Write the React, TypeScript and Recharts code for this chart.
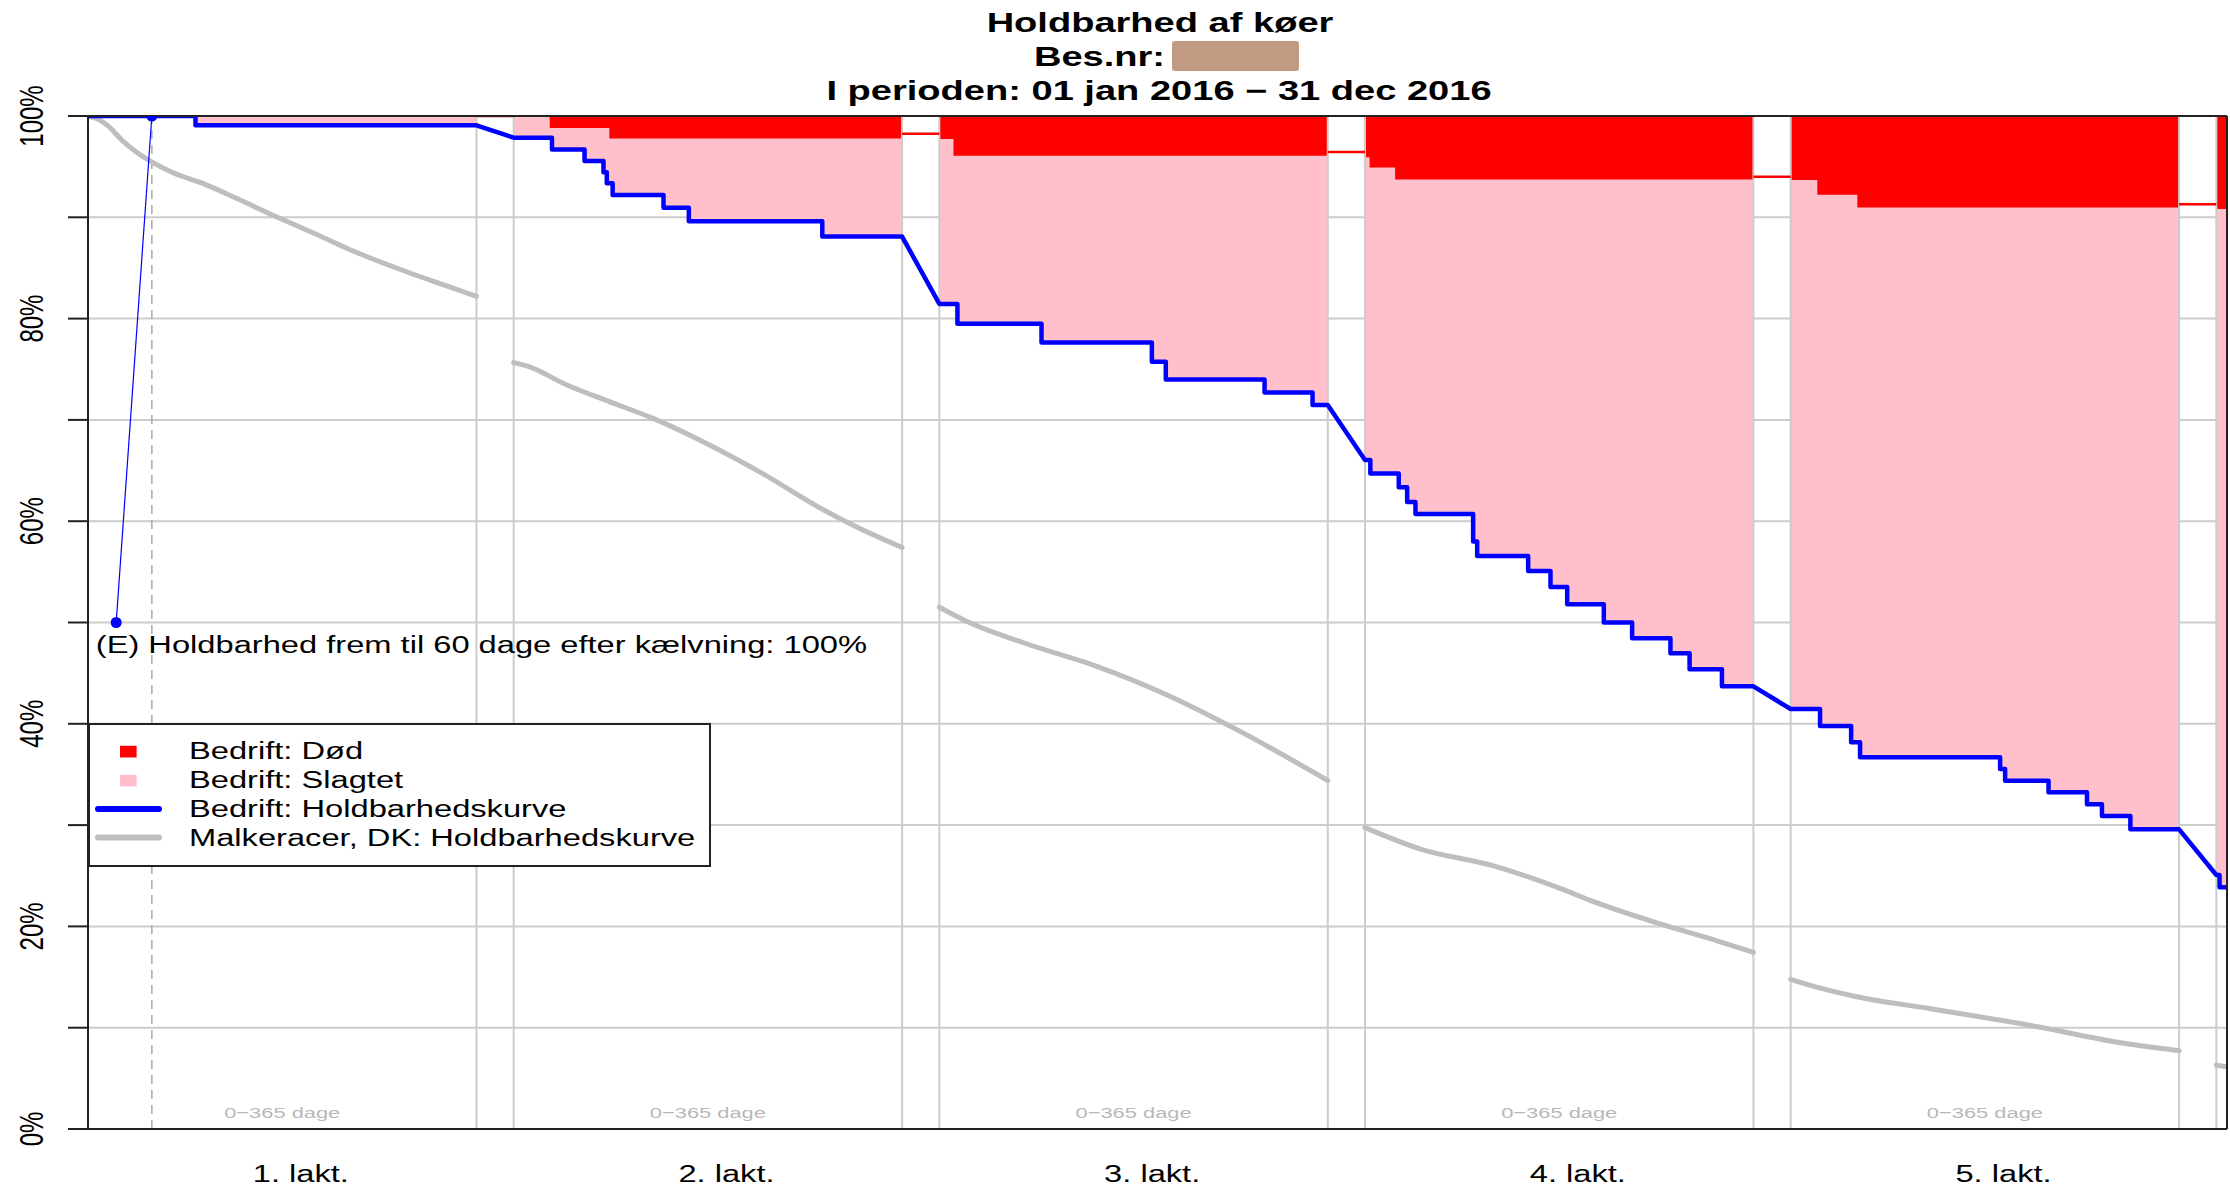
import {
  ComposedChart,
  Area,
  Line,
  XAxis,
  YAxis,
  CartesianGrid,
  ReferenceLine,
  ReferenceDot,
  Legend,
} from "recharts";

const FONT = "'Liberation Sans', Arial, sans-serif";
// the reference picture is stretched sideways, so text is too
const SX = 1.42;

const lactLabels = ["1. lakt.", "2. lakt.", "3. lakt.", "4. lakt.", "5. lakt."];
const lactLabelPos = [200, 600, 1000, 1400, 1800];
const daysLabelPos = [182.5, 582.5, 982.5, 1382.5, 1782.5];
const lactStart = [0, 400, 800, 1200, 1600, 2000];
const lactEnd = [365, 765, 1165, 1565, 1965, 2010];
const yTicks = [0, 10, 20, 30, 40, 50, 60, 70, 80, 90, 100];

// Bedrift: Holdbarhedskurve - start level and [day, %] steps per lactation
const blueStart = [100, 97.86, 81.45, 66.04, 41.46, 25.07];
const blueSteps = [
  [[101, 99.08]],
  [[436, 96.7], [466.6, 95.56], [484.4, 94.45], [487.5, 93.35], [493, 92.2], [540.8, 90.95], [564.6, 89.6], [690, 88.1]],
  [[817, 79.5], [896, 77.65], [999.7, 75.75], [1012.8, 74.0], [1105.6, 72.7], [1150.7, 71.47]],
  [[1205, 64.7], [1231.7, 63.35], [1239.6, 61.9], [1247.4, 60.7], [1301.6, 58.0], [1305.4, 56.56], [1353.3, 55.08],
    [1374.3, 53.5], [1390, 51.8], [1424.4, 50.0], [1451, 48.44], [1487, 46.96], [1505, 45.38], [1535.4, 43.7]],
  [[1627.6, 39.78], [1656.8, 38.17], [1665.2, 36.69], [1796.8, 35.54], [1801.5, 34.38], [1842.3, 33.24],
    [1878.4, 32.05], [1892.5, 30.9], [1919.2, 29.58]],
  [[2003, 23.86]],
];

// Bedrift: Død - lower edge of the red band per lactation
const redStart = [100, 100, 97.8, 96.0, 93.75, 90.9];
const redSteps = [
  [],
  [[434.6, 98.9], [490.6, 97.86]],
  [[814, 96.15]],
  [[1205, 95.0], [1229, 93.8]],
  [[1625.7, 92.3], [1663.3, 91.05]],
  [],
];
const gapRed = [100, 98.25, 96.45, 94.0, 91.3];

// Malkeracer, DK: Holdbarhedskurve
const grayL1 = [[0, 100], [8, 99.75], [18, 99.1], [32, 97.6], [46, 96.4], [61, 95.4], [80, 94.4], [109, 93.3],
  [140, 91.85], [176, 90.1], [215, 88.3], [253, 86.5], [300, 84.6], [335, 83.3], [365, 82.2]];
const grayL2 = [[400, 75.65], [413, 75.3], [450, 73.45], [490, 71.8], [531, 70.15], [578, 67.85], [634, 64.7],
  [688, 61.3], [719, 59.6], [765, 57.4]];
const grayL3 = [[800, 51.5], [826, 50.1], [879, 48.0], [946, 45.75], [1013, 42.9], [1080, 39.4], [1165, 34.4]];
const grayL4 = [[1200, 29.75], [1253, 27.6], [1320, 26.0], [1387, 23.6], [1411, 22.6], [1486, 19.97], [1530, 18.6],
  [1565, 17.44]];
const grayL5 = [[1600, 14.78], [1628, 13.9], [1662, 13.06], [1730, 11.9], [1832, 10.1], [1913, 8.46], [1965, 7.73]];
const grayL6 = [[2000, 6.3], [2010, 6.15]];
const grayCurves = [grayL1, grayL2, grayL3, grayL4, grayL5, grayL6];

// (E) marker: 60 days after calving
const markerPts = [[26.5, 50], [60, 100]];
const eDay = 60;
const eText = "(E) Holdbarhed frem til 60 dage efter kælvning: 100%";

const legendLabels = [
  "Bedrift: Død",
  "Bedrift: Slagtet",
  "Bedrift: Holdbarhedskurve",
  "Malkeracer, DK: Holdbarhedskurve",
];

function bandData(k: number) {
  const ev = [
    ...blueSteps[k].map(([d, v]) => ({ d, b: v as number | undefined, r: undefined as number | undefined })),
    ...redSteps[k].map(([d, v]) => ({ d, b: undefined as number | undefined, r: v as number | undefined })),
  ].sort((a, b) => a.d - b.d);
  let b = blueStart[k];
  let r = redStart[k];
  const pts = [{ x: lactStart[k], blue: b, red: r }];
  for (const e of ev) {
    pts.push({ x: e.d, blue: b, red: r });
    if (e.b !== undefined) b = e.b;
    if (e.r !== undefined) r = e.r;
    pts.push({ x: e.d, blue: b, red: r });
  }
  pts.push({ x: lactEnd[k], blue: b, red: r });
  return pts;
}

const bands = lactStart.map((_, k) => bandData(k));

const blueLine = lactStart.flatMap((s, k) => {
  let v = blueStart[k];
  const pts = [{ x: s, y: v }];
  for (const [d, nv] of blueSteps[k]) {
    pts.push({ x: d, y: v });
    v = nv;
    pts.push({ x: d, y: v });
  }
  pts.push({ x: lactEnd[k], y: v });
  return pts;
});

function StretchText(props: any) {
  const { x, y, size, anchor = "middle", weight = "normal", fill = "#000", rotate = false, children } = props;
  const t = `translate(${x},${y}) scale(${SX},1)` + (rotate ? " rotate(-90)" : "");
  return (
    <text transform={t} textAnchor={anchor} fontSize={size} fontWeight={weight} fill={fill} fontFamily={FONT}>
      {children}
    </text>
  );
}

function YTick(props: any) {
  const { x, y, payload } = props;
  if (payload.value % 20 !== 0) return <g />;
  return (
    <StretchText x={x - 23} y={y} size={24} rotate>
      {payload.value + "%"}
    </StretchText>
  );
}

function XTick(props: any) {
  const { x, y, payload } = props;
  const i = lactLabelPos.indexOf(payload.value);
  return (
    <StretchText x={x} y={y + 45} size={23}>
      {lactLabels[i]}
    </StretchText>
  );
}

function LegendBox() {
  const rowY = [36, 65, 94, 122.5];
  return (
    <svg width={624} height={146} style={{ display: "block" }}>
      <rect x={1} y={1} width={621} height={142} fill="#fff" stroke="#222" strokeWidth={2} />
      <rect x={32} y={rowY[0] - 13.2} width={16.6} height={11.7} fill="#ff0000" />
      <rect x={32} y={rowY[1] - 13.2} width={16.6} height={11.7} fill="#ffc0cb" />
      <line x1={10} x2={71} y1={rowY[2] - 8} y2={rowY[2] - 8} stroke="#0000ff" strokeWidth={6} strokeLinecap="round" />
      <line x1={10} x2={71} y1={rowY[3] - 8} y2={rowY[3] - 8} stroke="#bebebe" strokeWidth={6} strokeLinecap="round" />
      {legendLabels.map((l, i) => (
        <StretchText key={l} x={101} y={rowY[i]} size={23} anchor="start">
          {l}
        </StretchText>
      ))}
    </svg>
  );
}

export default function App() {
  return (
    <div style={{ position: "absolute", left: 0, top: 0, width: 2230, height: 1187, background: "#fff" }}>
      <ComposedChart width={2230} height={1187} margin={{ top: 116, right: 3, bottom: 0, left: 0 }}>
        <CartesianGrid vertical={false} stroke="#cccccc" strokeWidth={2} />
        <XAxis
          type="number"
          dataKey="x"
          domain={[0, 2010]}
          ticks={lactLabelPos}
          allowDataOverflow
          height={58}
          tickLine={false}
          axisLine={{ stroke: "#222", strokeWidth: 2 }}
          tick={<XTick />}
          interval={0}
        />
        <YAxis
          type="number"
          domain={[0, 100]}
          ticks={yTicks}
          allowDataOverflow
          width={88}
          tickSize={20}
          interval={0}
          axisLine={{ stroke: "#222", strokeWidth: 2 }}
          tickLine={{ stroke: "#222", strokeWidth: 2 }}
          tick={<YTick />}
        />
        {lactStart.slice(1).map((s) => (
          <ReferenceLine key={"s" + s} x={s} stroke="#cccccc" strokeWidth={2} />
        ))}
        {lactEnd.slice(0, 5).map((e) => (
          <ReferenceLine key={"e" + e} x={e} stroke="#cccccc" strokeWidth={2} />
        ))}
        <ReferenceLine x={eDay} stroke="#aaaaaa" strokeWidth={1.5} strokeDasharray="9 6" />
        {bands.map((d, k) => (
          <Area
            key={"p" + k}
            data={d}
            dataKey={(p: any) => [p.blue, p.red]}
            type="linear"
            fill="#ffc0cb"
            fillOpacity={1}
            stroke="none"
            isAnimationActive={false}
          />
        ))}
        {bands.map((d, k) => (
          <Area
            key={"r" + k}
            data={d}
            dataKey={(p: any) => [p.red, 100]}
            type="linear"
            fill="#ff0000"
            fillOpacity={1}
            stroke="#ff0000"
            strokeWidth={1.5}
            isAnimationActive={false}
          />
        ))}
        {gapRed.map((v, i) => (
          <Line
            key={"g" + i}
            data={[{ x: lactEnd[i], y: v }, { x: lactStart[i + 1], y: v }]}
            dataKey="y"
            stroke="#ff0000"
            strokeWidth={2.5}
            dot={false}
            isAnimationActive={false}
          />
        ))}
        {grayCurves.map((c, k) => (
          <Line
            key={"gc" + k}
            data={c.map(([x, y]) => ({ x, y }))}
            dataKey="y"
            type="monotone"
            stroke="#bebebe"
            strokeWidth={5}
            strokeLinecap="round"
            dot={false}
            isAnimationActive={false}
          />
        ))}
        <Line
          data={blueLine}
          dataKey="y"
          type="linear"
          stroke="#0000ff"
          strokeWidth={4.5}
          strokeLinejoin="round"
          dot={false}
          isAnimationActive={false}
        />
        <Line
          data={markerPts.map(([x, y]) => ({ x, y }))}
          dataKey="y"
          type="linear"
          stroke="#0000ff"
          strokeWidth={1.2}
          dot={{ r: 5.5, fill: "#0000ff", stroke: "none" }}
          isAnimationActive={false}
        />
        <ReferenceLine y={100} stroke="#222" strokeWidth={2} />
        <ReferenceLine x={2010} stroke="#222" strokeWidth={2} />
        {daysLabelPos.map((p) => (
          <ReferenceDot
            key={"d" + p}
            x={p}
            y={1.1}
            r={1}
            shape={(s: any) => (
              <StretchText x={s.cx} y={s.cy} size={15.4} fill="#b8b8b8">
                0−365 dage
              </StretchText>
            )}
          />
        ))}
        <ReferenceDot
          x={7.3}
          y={47}
          r={1}
          shape={(s: any) => (
            <StretchText x={s.cx} y={s.cy} size={23} anchor="start">
              {eText}
            </StretchText>
          )}
        />
        <Legend
          layout="horizontal"
          verticalAlign="middle"
          align="center"
          content={() => <LegendBox />}
          wrapperStyle={{ left: 88, top: 723, width: 624, height: 146 }}
        />
      </ComposedChart>
      <svg width={2230} height={112} style={{ position: "absolute", left: 0, top: 0 }}>
        <StretchText x={1160} y={31.5} size={26.8} weight="bold">
          Holdbarhed af køer
        </StretchText>
        <StretchText x={1165} y={66} size={26.8} weight="bold" anchor="end">
          Bes.nr:
        </StretchText>
        <rect x={1172} y={41} width={127} height={30} rx={3} fill="#c09b82" />
        <StretchText x={1159} y={99.5} size={26.8} weight="bold">
          I perioden: 01 jan 2016 − 31 dec 2016
        </StretchText>
      </svg>
    </div>
  );
}
